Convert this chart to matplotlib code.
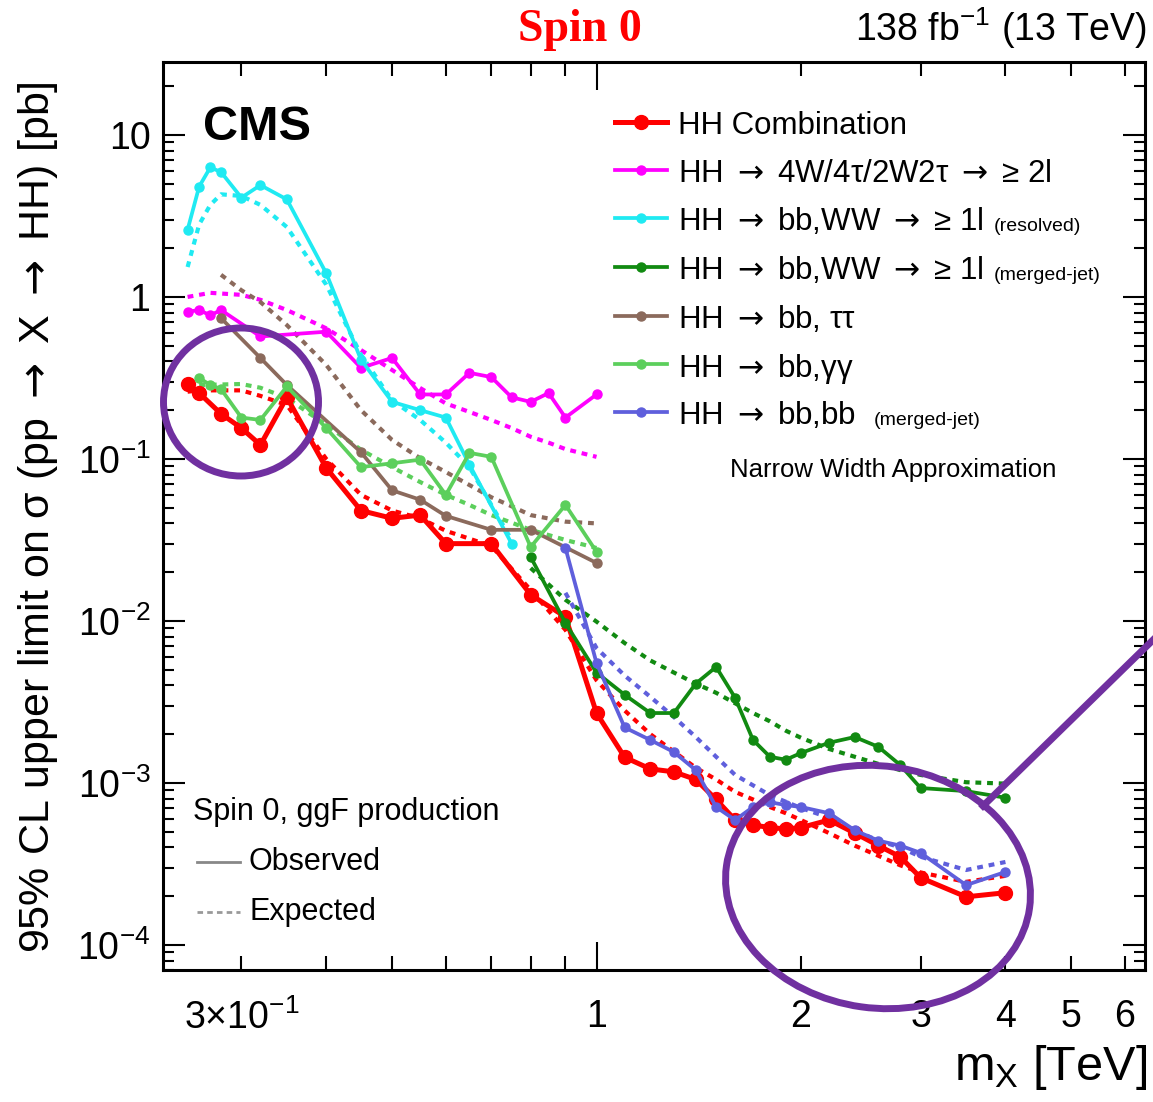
import numpy as np
import matplotlib
matplotlib.use('Agg')
import matplotlib.pyplot as plt
from matplotlib.lines import Line2D
from matplotlib.patches import Ellipse
from matplotlib.ticker import FixedLocator, FixedFormatter, LogLocator, NullFormatter

plt.rcParams['font.family'] = ['Liberation Sans', 'DejaVu Sans']
plt.rcParams['mathtext.fontset'] = 'custom'
plt.rcParams['mathtext.rm'] = 'Liberation Sans'
plt.rcParams['mathtext.it'] = 'Liberation Sans:italic'
plt.rcParams['mathtext.bf'] = 'Liberation Sans:bold'
plt.rcParams['mathtext.sf'] = 'DejaVu Sans'

# ---------------- data (mass in TeV, limit in pb) ----------------
m_comb = [0.25, 0.26, 0.28, 0.30, 0.32, 0.35, 0.40, 0.45, 0.50, 0.55, 0.60, 0.70, 0.80, 0.90,
          1.0, 1.1, 1.2, 1.3, 1.4, 1.5, 1.6, 1.7, 1.8, 1.9, 2.0, 2.2, 2.4, 2.6, 2.8, 3.0, 3.5, 4.0]
obs_comb = [0.29, 0.255, 0.19, 0.155, 0.122, 0.24, 0.088, 0.048, 0.043, 0.045, 0.030, 0.030, 0.0145, 0.0106,
            0.0027, 0.00144, 0.00122, 0.00117, 0.00105, 0.00079, 0.00059, 0.00055, 0.00053, 0.00052, 0.00053,
            0.00059, 0.00049, 0.00041, 0.00035, 0.00026, 0.000198, 0.00021]
exp_comb = [0.26, 0.265, 0.265, 0.265, 0.245, 0.215, 0.100, 0.060, 0.048, 0.043, 0.036, 0.029, 0.0155, 0.0088,
            0.0043, 0.0028, 0.0020, 0.00156, 0.00124, 0.00105, 0.00088, 0.00079, 0.00071, 0.00065, 0.00059,
            0.00049, 0.00041, 0.000355, 0.00031, 0.00028, 0.000245, 0.000267]

m_ml_obs = [0.25, 0.26, 0.27, 0.28, 0.32, 0.40, 0.45, 0.50, 0.55, 0.60, 0.65, 0.70, 0.75, 0.80, 0.85, 0.90, 1.0]
obs_ml = [0.81, 0.83, 0.77, 0.83, 0.57, 0.61, 0.365, 0.42, 0.25, 0.25, 0.34, 0.32, 0.24, 0.225, 0.255, 0.18, 0.25]
m_ml_exp = [0.25, 0.27, 0.30, 0.32, 0.35, 0.40, 0.45, 0.50, 0.55, 0.60, 0.65, 0.70, 0.75, 0.80, 0.85, 0.90, 1.0]
exp_ml = [1.0, 1.06, 1.03, 0.96, 0.83, 0.64, 0.47, 0.354, 0.274, 0.22, 0.195, 0.174, 0.155, 0.137, 0.126, 0.115, 0.103]

m_res = [0.25, 0.26, 0.27, 0.28, 0.30, 0.32, 0.35, 0.40, 0.45, 0.50, 0.55, 0.60, 0.65, 0.75]
obs_res = [2.6, 4.8, 6.3, 5.9, 4.1, 4.9, 4.0, 1.4, 0.41, 0.225, 0.20, 0.18, 0.092, 0.030]
exp_res = [1.53, 2.8, 3.7, 4.3, 4.2, 3.7, 2.7, 1.19, 0.44, 0.23, 0.174, 0.126, 0.089, 0.0316]

m_bbww = [0.8, 0.9, 1.0, 1.1, 1.2, 1.3, 1.4, 1.5, 1.6, 1.7, 1.8, 1.9, 2.0, 2.2, 2.4, 2.6, 2.8, 3.0, 3.5, 4.0]
obs_bbww = [0.0248, 0.0097, 0.0048, 0.0035, 0.0027, 0.0027, 0.0041, 0.0052, 0.00335, 0.00184, 0.00145, 0.00139,
            0.00153, 0.00177, 0.00192, 0.00167, 0.00129, 0.00093, 0.00089, 0.00081]
exp_bbww = [0.0212, 0.0135, 0.0099, 0.0073, 0.0057, 0.0048, 0.0041, 0.0036, 0.0031, 0.0027, 0.0024, 0.0021,
            0.0019, 0.00162, 0.00145, 0.00131, 0.0012, 0.00112, 0.00101, 0.00099]

m_tt_obs = [0.28, 0.32, 0.35, 0.45, 0.50, 0.55, 0.60, 0.70, 0.80, 1.0]
obs_tt = [0.74, 0.42, 0.286, 0.110, 0.064, 0.056, 0.0445, 0.0365, 0.0365, 0.0228]
m_tt_exp = [0.28, 0.30, 0.32, 0.35, 0.40, 0.45, 0.50, 0.55, 0.60, 0.65, 0.70, 0.75, 0.80, 0.90, 1.0]
exp_tt = [1.37, 1.10, 0.93, 0.67, 0.38, 0.20, 0.131, 0.101, 0.083, 0.069, 0.058, 0.051, 0.045, 0.041, 0.040]

m_gg_obs = [0.26, 0.27, 0.28, 0.30, 0.32, 0.35, 0.40, 0.45, 0.50, 0.55, 0.60, 0.65, 0.70, 0.80, 0.90, 1.0]
obs_gg = [0.316, 0.286, 0.27, 0.18, 0.174, 0.28, 0.155, 0.089, 0.094, 0.099, 0.060, 0.109, 0.103, 0.0286, 0.052, 0.0267]
m_gg_exp = [0.26, 0.30, 0.32, 0.35, 0.40, 0.45, 0.50, 0.55, 0.60, 0.65, 0.70, 0.80, 0.90, 1.0]
exp_gg = [0.286, 0.29, 0.275, 0.238, 0.162, 0.114, 0.089, 0.072, 0.060, 0.052, 0.045, 0.0365, 0.0316, 0.0282]

m_4b_obs = [0.9, 1.0, 1.1, 1.2, 1.3, 1.4, 1.5, 1.6, 1.7, 1.8, 1.9, 2.0, 2.2, 2.4, 2.6, 2.8, 3.0, 3.5, 4.0]
obs_4b = [0.0282, 0.0055, 0.0022, 0.00184, 0.00155, 0.0012, 0.00071, 0.00059, 0.00071, 0.00076, 0.00073,
          0.00071, 0.00065, 0.00051, 0.00044, 0.00041, 0.00037, 0.000234, 0.000282]
m_4b_exp = [0.9, 1.0, 1.1, 1.2, 1.3, 1.4, 1.5, 1.6, 1.8, 2.0, 2.2, 2.4, 2.6, 2.8, 3.0, 3.5, 4.0]
exp_4b = [0.0149, 0.0068, 0.0046, 0.0034, 0.00255, 0.00192, 0.00145, 0.00112, 0.00084, 0.0007, 0.00061,
          0.00051, 0.00044, 0.0004, 0.00035, 0.00029, 0.000325]

ARR = '$\\mathsf{\\rightarrow}$'
legend_main = ["HH Combination",
               "HH " + ARR + " 4W/4\u03c4/2W2\u03c4 " + ARR + " \u2265 2l",
               "HH " + ARR + " bb,WW " + ARR + " \u2265 1l",
               "HH " + ARR + " bb,WW " + ARR + " \u2265 1l",
               "HH " + ARR + " bb, \u03c4\u03c4",
               "HH " + ARR + " bb,\u03b3\u03b3",
               "HH " + ARR + " bb,bb"]
legend_small = ["", "", "(resolved)", "(merged-jet)", "", "", "(merged-jet)"]

y_ticks = [1e-4, 1e-3, 1e-2, 1e-1, 1, 10]
y_ticklabels = ['10$^{\\mathregular{-4}}$', '10$^{\\mathregular{-3}}$', '10$^{\\mathregular{-2}}$',
                '10$^{\\mathregular{-1}}$', '1', '10']
x_major = [1.0]
x_major_labels = ['1']
x_minor = [0.3, 0.4, 0.5, 0.6, 0.7, 0.8, 0.9, 2, 3, 4, 5, 6]
x_minor_labels = ['3\u00d710$^{\\mathregular{-1}}$', '', '', '', '', '', '', '2', '3', '4', '5', '6']

# ---------------- styles ----------------
C_RED = '#FF0000'
C_MAG = '#FF00FF'
C_CYAN = '#1FEAF2'
C_DGREEN = '#118A11'
C_BROWN = '#8B6A5C'
C_LGREEN = '#5CCF5C'
C_BLUE = '#5F5FDC'
PURPLE = '#7030A0'

W, H = 1153, 1102
fig = plt.figure(figsize=(W / 100, H / 100), dpi=100)
ax = fig.add_axes([163 / W, 1 - 970 / H, (1145 - 163) / W, (970 - 62) / H])
ax.set_xscale('log')
ax.set_yscale('log')

dot = (0, (1.4, 1.4))
series = [
    (m_comb, exp_comb, m_comb, obs_comb, C_RED, 3.6, 10),
    (m_ml_exp, exp_ml, m_ml_obs, obs_ml, C_MAG, 2.7, 6.5),
    (m_res, exp_res, m_res, obs_res, C_CYAN, 2.7, 6.5),
    (m_bbww, exp_bbww, m_bbww, obs_bbww, C_DGREEN, 2.7, 6.5),
    (m_tt_exp, exp_tt, m_tt_obs, obs_tt, C_BROWN, 2.7, 6.5),
    (m_gg_exp, exp_gg, m_gg_obs, obs_gg, C_LGREEN, 2.7, 6.5),
    (m_4b_exp, exp_4b, m_4b_obs, obs_4b, C_BLUE, 2.7, 6.5),
]
for mx_e, ye, mx_o, yo, c, lw, ms in series:
    ax.plot(mx_e, ye, color=c, lw=3.0, ls=dot, zorder=2)
for mx_e, ye, mx_o, yo, c, lw, ms in series:
    ax.plot(mx_o, yo, color=c, lw=lw, marker='o', ms=ms, zorder=3)

ax.set_xlim(0.23, 6.42)
ax.set_ylim(7.0e-5, 28.2)

# ticks
ax.yaxis.set_major_locator(FixedLocator(y_ticks))
ax.yaxis.set_major_formatter(FixedFormatter(y_ticklabels))
ax.yaxis.set_minor_locator(LogLocator(base=10, subs=np.arange(2, 10), numticks=20))
ax.yaxis.set_minor_formatter(NullFormatter())
ax.xaxis.set_major_locator(FixedLocator(x_major))
ax.xaxis.set_major_formatter(FixedFormatter(x_major_labels))
ax.xaxis.set_minor_locator(FixedLocator(x_minor))
ax.xaxis.set_minor_formatter(FixedFormatter(x_minor_labels))

ax.tick_params(which='both', direction='in', top=True, right=True, width=1.5, labelsize=27)
ax.tick_params(axis='y', which='major', length=16, pad=9)
ax.tick_params(axis='y', which='minor', length=8)
ax.tick_params(axis='x', which='major', length=20, pad=21)
ax.tick_params(axis='x', which='minor', length=10, pad=21)
for s in ax.spines.values():
    s.set_linewidth(2.2)

# ---------------- texts ----------------
def axx(px):
    return (px - 163) / 982.0

def axy(py):
    return (970 - py) / 908.0

ax.text(axx(203), axy(127), "CMS", transform=ax.transAxes, fontsize=35, fontweight='bold',
        ha='left', va='center')

colors = [C_RED, C_MAG, C_CYAN, C_DGREEN, C_BROWN, C_LGREEN, C_BLUE]
rows = [122, 170, 218, 267, 316, 364, 412]
for i, (c, py) in enumerate(zip(colors, rows)):
    y = axy(py)
    lw = 3.6 if i == 0 else 2.7
    ms = 10 if i == 0 else 6.5
    ax.add_line(Line2D([axx(615), axx(667)], [y, y], transform=ax.transAxes, color=c, lw=lw))
    ax.add_line(Line2D([axx(641)], [y], transform=ax.transAxes, color=c, marker='o', ms=ms, lw=0))
    t = ax.text(axx(678), y, legend_main[i], transform=ax.transAxes, fontsize=22.5,
                ha='left', va='center_baseline')
    if legend_small[i]:
        ax.annotate(legend_small[i], xy=(1, 0), xycoords=t, xytext=(7 if i != 6 else 13, 4.5),
                    textcoords='offset points', fontsize=14, ha='left', va='baseline')

ax.text(axx(730), axy(470), "Narrow Width Approximation", transform=ax.transAxes,
        fontsize=18.5, ha='left', va='center')

ax.text(axx(193), axy(812), "Spin 0, ggF production", transform=ax.transAxes,
        fontsize=22, ha='left', va='center')
ax.add_line(Line2D([axx(197), axx(240)], [axy(862)] * 2, transform=ax.transAxes, color='#888888', lw=2))
ax.text(axx(249), axy(862), "Observed", transform=ax.transAxes, fontsize=22, ha='left', va='center')
ax.add_line(Line2D([axx(197), axx(240)], [axy(912)] * 2, transform=ax.transAxes, color='#999999',
                   lw=2, ls=(0, (2, 1.5))))
ax.text(axx(249), axy(912), "Expected", transform=ax.transAxes, fontsize=22, ha='left', va='center')

fig.text(580 / W, 1 - 30 / H, "Spin 0", color='#FF0000', fontsize=33, fontweight='bold',
         family=['Liberation Serif', 'DejaVu Serif'], ha='center', va='center')
fig.text(1147 / W, 1 - 28 / H, "138 fb$^{\\mathregular{-1}}$ (13 TeV)", fontsize=27,
         ha='right', va='center')
fig.text(38 / W, 1 - 517 / H, "95% CL upper limit on \u03c3 (pp " + ARR + " X " + ARR + " HH) [pb]",
         fontsize=31, rotation=90, ha='center', va='center')
fig.text(1147 / W, 1 - 1068 / H, "m$_{\\mathregular{X}}$ [TeV]", fontsize=35, ha='right', va='center')

# ---------------- purple annotations ----------------
tr = fig.dpi_scale_trans
fig.add_artist(Ellipse((241 / 100, (H - 402) / 100), 1.55, 1.48, transform=tr,
                       fill=False, ec=PURPLE, lw=5, zorder=10))
fig.add_artist(Ellipse((878 / 100, (H - 887) / 100), 3.06, 2.42, angle=-8, transform=tr,
                       fill=False, ec=PURPLE, lw=5, zorder=10))
fig.add_artist(Line2D([983 / 100, 1153 / 100], [(H - 806) / 100, (H - 640) / 100], transform=tr,
                      color=PURPLE, lw=5, zorder=10))

fig.savefig('out.png', dpi=100)
